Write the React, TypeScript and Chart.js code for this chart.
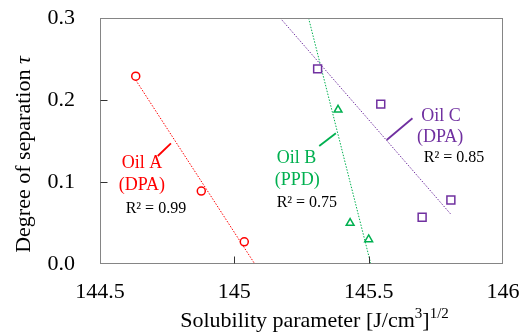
import React, { useEffect, useRef } from 'react';
import { Chart, registerables } from 'chart.js';
Chart.register(...registerables);

// ---- data ----
const oilAX = [144.633, 144.877, 145.037];
const oilAY = [0.229, 0.089, 0.027];
const oilBX = [145.386, 145.431, 145.5];
const oilBY = [0.188, 0.05, 0.03];
const oilCX = [145.31, 145.545, 145.699, 145.806];
const oilCY = [0.238, 0.195, 0.057, 0.078];
const xTicks = [144.5, 145, 145.5, 146];
const yTicks = [0, 0.1, 0.2, 0.3];
const nameLabels = ['Oil A', 'Oil B', 'Oil C'];
const methodLabels = ['(DPA)', '(PPD)', '(DPA)'];
const r2Labels = ['R\u00B2 = 0.99', 'R\u00B2 = 0.75', 'R\u00B2 = 0.85'];

const RED = '#ff0000';
const GREEN = '#00b050';
const PURPLE = '#7030a0';
const FONT = "'Liberation Serif', 'Times New Roman', serif";

function fit(xs: number[], ys: number[]) {
  const n = xs.length;
  const mx = xs.reduce((a, b) => a + b, 0) / n;
  const my = ys.reduce((a, b) => a + b, 0) / n;
  let sxy = 0, sxx = 0;
  for (let i = 0; i < n; i++) {
    sxy += (xs[i] - mx) * (ys[i] - my);
    sxx += (xs[i] - mx) ** 2;
  }
  const m = sxy / sxx;
  return { m, b: my - m * mx };
}
const yAt = (f: { m: number; b: number }, x: number) => f.m * x + f.b;
const xAt = (f: { m: number; b: number }, y: number) => (y - f.b) / f.m;

const yMin = yTicks[0];
const yMax = yTicks[yTicks.length - 1];
const fA = fit(oilAX, oilAY);
const fB = fit(oilBX, oilBY);
const fC = fit(oilCX, oilCY);
const aStart = Math.min(...oilAX);
const cEnd = Math.max(...oilCX);
const trendA = [{ x: aStart, y: yAt(fA, aStart) }, { x: xAt(fA, yMin), y: yMin }];
const trendB = [{ x: xAt(fB, yMax), y: yMax }, { x: xAt(fB, yMin), y: yMin }];
const trendC = [{ x: xAt(fC, yMax), y: yMax }, { x: cEnd, y: yAt(fC, cEnd) }];

const pts = (xs: number[], ys: number[]) => xs.map((x, i) => ({ x, y: ys[i] }));

// annotation placement (data coordinates)
const annots = [
  { color: RED, name: [144.656, 0.123], method: [144.656, 0.0965], r2: [144.708, 0.0675], leader: [[144.715, 0.1317], [144.764, 0.1472]] },
  { color: GREEN, name: [145.231, 0.129], method: [145.234, 0.1016], r2: [145.270, 0.0744], leader: [[145.316, 0.1439], [145.378, 0.1594]] },
  { color: PURPLE, name: [145.769, 0.1805], method: [145.766, 0.154], r2: [145.818, 0.1296], leader: [[145.567, 0.1512], [145.663, 0.1777]] },
];

const overlay = {
  id: 'overlay',
  afterDraw(chart: any) {
    const { ctx, chartArea: a, scales } = chart;
    const xs = scales.x, ys = scales.y;
    ctx.save();
    // frame
    ctx.strokeStyle = '#858585';
    ctx.lineWidth = 1;
    const L = Math.round(a.left) + 0.5, T = Math.round(a.top) + 0.5;
    const R = Math.round(a.right) - 0.5, B = Math.round(a.bottom) - 0.5;
    ctx.strokeRect(L, T, R - L, B - T);
    // inward ticks
    ctx.strokeStyle = '#333';
    ctx.beginPath();
    xTicks.slice(1, -1).forEach((v) => {
      const px = Math.round(xs.getPixelForValue(v)) + 0.5;
      ctx.moveTo(px, B);
      ctx.lineTo(px, B - 7);
    });
    yTicks.slice(1, -1).forEach((v) => {
      const py = Math.round(ys.getPixelForValue(v)) + 0.5;
      ctx.moveTo(L, py);
      ctx.lineTo(L + 7, py);
    });
    ctx.stroke();

    // annotations
    ctx.textAlign = 'center';
    ctx.textBaseline = 'middle';
    annots.forEach((an, i) => {
      ctx.fillStyle = an.color;
      ctx.font = `18px ${FONT}`;
      ctx.fillText(nameLabels[i], xs.getPixelForValue(an.name[0]), ys.getPixelForValue(an.name[1]));
      ctx.fillText(methodLabels[i], xs.getPixelForValue(an.method[0]), ys.getPixelForValue(an.method[1]));
      ctx.fillStyle = '#000';
      ctx.font = `16px ${FONT}`;
      ctx.fillText(r2Labels[i], xs.getPixelForValue(an.r2[0]), ys.getPixelForValue(an.r2[1]));
      ctx.strokeStyle = an.color;
      ctx.lineWidth = 1.8;
      ctx.beginPath();
      ctx.moveTo(xs.getPixelForValue(an.leader[0][0]), ys.getPixelForValue(an.leader[0][1]));
      ctx.lineTo(xs.getPixelForValue(an.leader[1][0]), ys.getPixelForValue(an.leader[1][1]));
      ctx.stroke();
    });

    // y title
    ctx.fillStyle = '#000';
    ctx.textAlign = 'left';
    ctx.textBaseline = 'alphabetic';
    ctx.save();
    ctx.translate(30, 154.5);
    ctx.rotate(-Math.PI / 2);
    const yt1 = 'Degree of separation ';
    ctx.font = `22px ${FONT}`;
    const w1 = ctx.measureText(yt1).width;
    ctx.font = `italic 22px ${FONT}`;
    const w2 = ctx.measureText('\u03C4').width;
    const sx = -(w1 + w2) / 2;
    ctx.font = `22px ${FONT}`;
    ctx.fillText(yt1, sx, 0);
    ctx.font = `italic 22px ${FONT}`;
    ctx.fillText('\u03C4', sx + w1, 0);
    ctx.restore();

    // x title with superscripts
    const parts: [string, boolean][] = [
      ['Solubility parameter [J/cm', false],
      ['3', true],
      [']', false],
      ['1/2', true],
    ];
    const main = `22px ${FONT}`;
    const sup = `15px ${FONT}`;
    let total = 0;
    parts.forEach(([t, s]) => {
      ctx.font = s ? sup : main;
      total += ctx.measureText(t).width;
    });
    let cx = 314.5 - total / 2;
    const base = 327;
    parts.forEach(([t, s]) => {
      ctx.font = s ? sup : main;
      ctx.fillText(t, cx, s ? base - 9 : base);
      cx += ctx.measureText(t).width;
    });
    ctx.restore();
  },
};

export default function App() {
  const ref = useRef<HTMLCanvasElement>(null);
  useEffect(() => {
    if (!ref.current) return;
    const chart = new Chart(ref.current, {
      type: 'scatter',
      data: {
        datasets: [
          { data: pts(oilAX, oilAY), pointStyle: 'circle', pointRadius: 4, borderColor: RED, backgroundColor: '#fff', pointBorderWidth: 1.5 },
          { data: pts(oilBX, oilBY), pointStyle: 'triangle', pointRadius: 4.5, borderColor: GREEN, backgroundColor: '#fff', pointBorderWidth: 1.5 },
          { data: pts(oilCX, oilCY), pointStyle: 'rect', pointRadius: 5.6, borderColor: PURPLE, backgroundColor: '#fff', pointBorderWidth: 1.5 },
          { data: trendA, showLine: true, pointRadius: 0, borderColor: RED, borderWidth: 1, borderDash: [1.5, 1.5] },
          { data: trendB, showLine: true, pointRadius: 0, borderColor: GREEN, borderWidth: 1, borderDash: [1.5, 1.5] },
          { data: trendC, showLine: true, pointRadius: 0, borderColor: PURPLE, borderWidth: 1, borderDash: [1.5, 1.5] },
        ] as any,
      },
      options: {
        animation: false,
        responsive: false,
        events: [],
        layout: { padding: { top: 18, right: 18, left: 0, bottom: 0 } },
        plugins: { legend: { display: false }, tooltip: { enabled: false } },
        scales: {
          x: {
            type: 'linear',
            min: xTicks[0],
            max: xTicks[xTicks.length - 1],
            afterBuildTicks: (s: any) => { s.ticks = xTicks.map((v) => ({ value: v })); },
            afterFit: (s: any) => { s.height = 72; s.paddingLeft = 0; s.paddingRight = 0; },
            grid: { display: false, drawTicks: false },
            border: { display: false },
            ticks: { color: '#000', font: { family: FONT, size: 22 }, padding: 15, maxRotation: 0, callback: (v: any) => String(v) },
          },
          y: {
            type: 'linear',
            min: yMin,
            max: yMax,
            afterBuildTicks: (s: any) => { s.ticks = yTicks.map((v) => ({ value: v })); },
            afterFit: (s: any) => { s.width = 100; s.paddingTop = 0; s.paddingBottom = 0; },
            grid: { display: false, drawTicks: false },
            border: { display: false },
            ticks: { color: '#000', font: { family: FONT, size: 22 }, padding: 25, callback: (v: any) => Number(v).toFixed(1) },
          },
        },
      },
      plugins: [overlay],
    });
    return () => chart.destroy();
  }, []);
  return (
    <div style={{ position: 'fixed', left: 0, top: 0, width: 521, height: 336, background: '#fff' }}>
      <canvas ref={ref} width={521} height={336} />
    </div>
  );
}
